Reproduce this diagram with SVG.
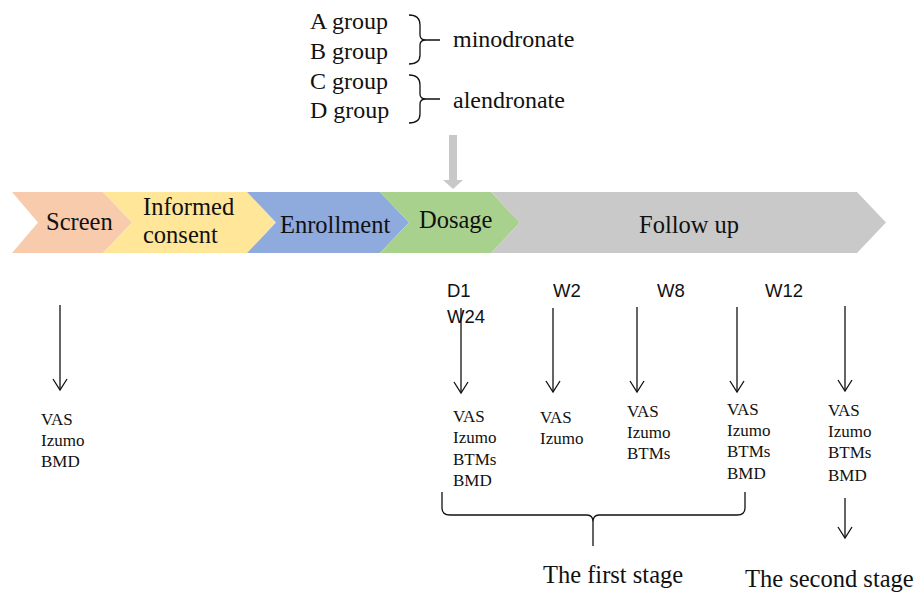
<svg xmlns="http://www.w3.org/2000/svg" width="919" height="594" viewBox="0 0 919 594">
<defs>
<style>
.t{font-family:"Liberation Serif","Times New Roman",serif;fill:#111;}
.big{font-size:24.5px;}
.grp{font-size:24px;}
.sm{font-size:17px;}
.lab{font-family:"Liberation Sans",Arial,sans-serif;font-size:18.5px;fill:#111;}
.ln{fill:none;stroke:#111;stroke-width:1.3;}
.ar{fill:none;stroke:#111;stroke-width:1.3;marker-end:url(#ah);}
</style>
<marker id="ah" markerUnits="userSpaceOnUse" viewBox="-12 -8 14 16" refX="0" refY="0" markerWidth="14" markerHeight="16" orient="auto">
<path d="M-11,-7 L0,0 L-11,7" fill="none" stroke="#111" stroke-width="1.3"/>
</marker>
</defs>
<rect width="919" height="594" fill="#fff"/>

<g id="groups">
<text class="t grp" x="310" y="29">A group</text>
<text class="t grp" x="310" y="59">B group</text>
<text class="t grp" x="310" y="89">C group</text>
<text class="t grp" x="310" y="118">D group</text>
<path class="ln" d="M409,15 Q420,15 420,25 L420,35 Q420,40 426,40 Q420,40 420,45 L420,55 Q420,64 409,64 M426,40 L440,40"/>
<path class="ln" d="M409,75 Q420,75 420,85 L420,94 Q420,99 426,99 Q420,99 420,104 L420,114 Q420,123 409,123 M426,99 L440,99"/>
<text class="t grp" x="453" y="47">minodronate</text>
<text class="t grp" x="453" y="108">alendronate</text>
</g>

<g id="screen">
<polygon points="12,192 103,192 132,222.5 103,253 12,253 38,222.5" fill="#F8CBAD"/>
<text class="t big" x="46" y="230">Screen</text>
</g>
<g id="informed-consent">
<polygon points="103,192 247,192 276,222.5 247,253 103,253 132,222.5" fill="#FFE699"/>
<text class="t big" x="143" y="215">Informed</text>
<text class="t big" x="143" y="243">consent</text>
</g>
<g id="enrollment">
<polygon points="247,192 380,192 409,222.5 380,253 247,253 276,222.5" fill="#8FAADC"/>
<text class="t big" x="280" y="233">Enrollment</text>
</g>
<g id="dosage">
<polygon points="380,192 491,192 520,222.5 491,253 380,253 409,222.5" fill="#A9D18E"/>
<text class="t big" x="419" y="228">Dosage</text>
</g>
<g id="follow-up">
<polygon points="491,192 857,192 886,222.5 857,253 491,253 520,222.5" fill="#C9C9C9"/>
<text class="t big" x="639" y="233">Follow up</text>
</g>

<g id="time-labels">
<text class="lab" x="447" y="297">D1</text>
<text class="lab" x="447" y="323">W24</text>
<text class="lab" x="553" y="297">W2</text>
<text class="lab" x="657" y="297">W8</text>
<text class="lab" x="765" y="297">W12</text>
</g>

<g id="connectors">
<polygon points="449,135 457,135 457,180 463,180 453,189 443,180 449,180" fill="#C8C8C8"/>
<path class="ar" d="M60,305 L60,390"/>
<path class="ar" d="M461,308 L461,393"/>
<path class="ar" d="M553,308 L553,392"/>
<path class="ar" d="M637,307 L637,392"/>
<path class="ar" d="M737,307 L737,392"/>
<path class="ar" d="M845,306 L845,391"/>
<path class="ar" d="M845,498 L845,538"/>
<path class="ln" d="M442,492 L442,508 Q442,515 450,515 L587,515 Q593,515 593,522 L593,546 M593,522 Q593,515 599,515 L737,515 Q745,515 745,508 L745,492"/>
</g>

<g id="screen-measures">
<text class="t sm" x="41" y="425">VAS</text>
<text class="t sm" x="41" y="446">Izumo</text>
<text class="t sm" x="41" y="467">BMD</text>
</g>
<g id="d1-measures">
<text class="t sm" x="453" y="422">VAS</text>
<text class="t sm" x="453" y="443">Izumo</text>
<text class="t sm" x="453" y="465">BTMs</text>
<text class="t sm" x="453" y="486">BMD</text>
</g>
<g id="w2-measures">
<text class="t sm" x="540" y="423">VAS</text>
<text class="t sm" x="540" y="444">Izumo</text>
</g>
<g id="w8-measures">
<text class="t sm" x="627" y="417">VAS</text>
<text class="t sm" x="627" y="438">Izumo</text>
<text class="t sm" x="627" y="459">BTMs</text>
</g>
<g id="w12-measures">
<text class="t sm" x="727" y="415">VAS</text>
<text class="t sm" x="727" y="436">Izumo</text>
<text class="t sm" x="727" y="457">BTMs</text>
<text class="t sm" x="727" y="479">BMD</text>
</g>
<g id="w24-measures">
<text class="t sm" x="828" y="416">VAS</text>
<text class="t sm" x="828" y="437">Izumo</text>
<text class="t sm" x="828" y="458">BTMs</text>
<text class="t sm" x="828" y="481">BMD</text>
</g>

<g id="stages">
<text class="t big" x="543" y="583">The first stage</text>
<text class="t big" x="745" y="587">The second stage</text>
</g>
</svg>
